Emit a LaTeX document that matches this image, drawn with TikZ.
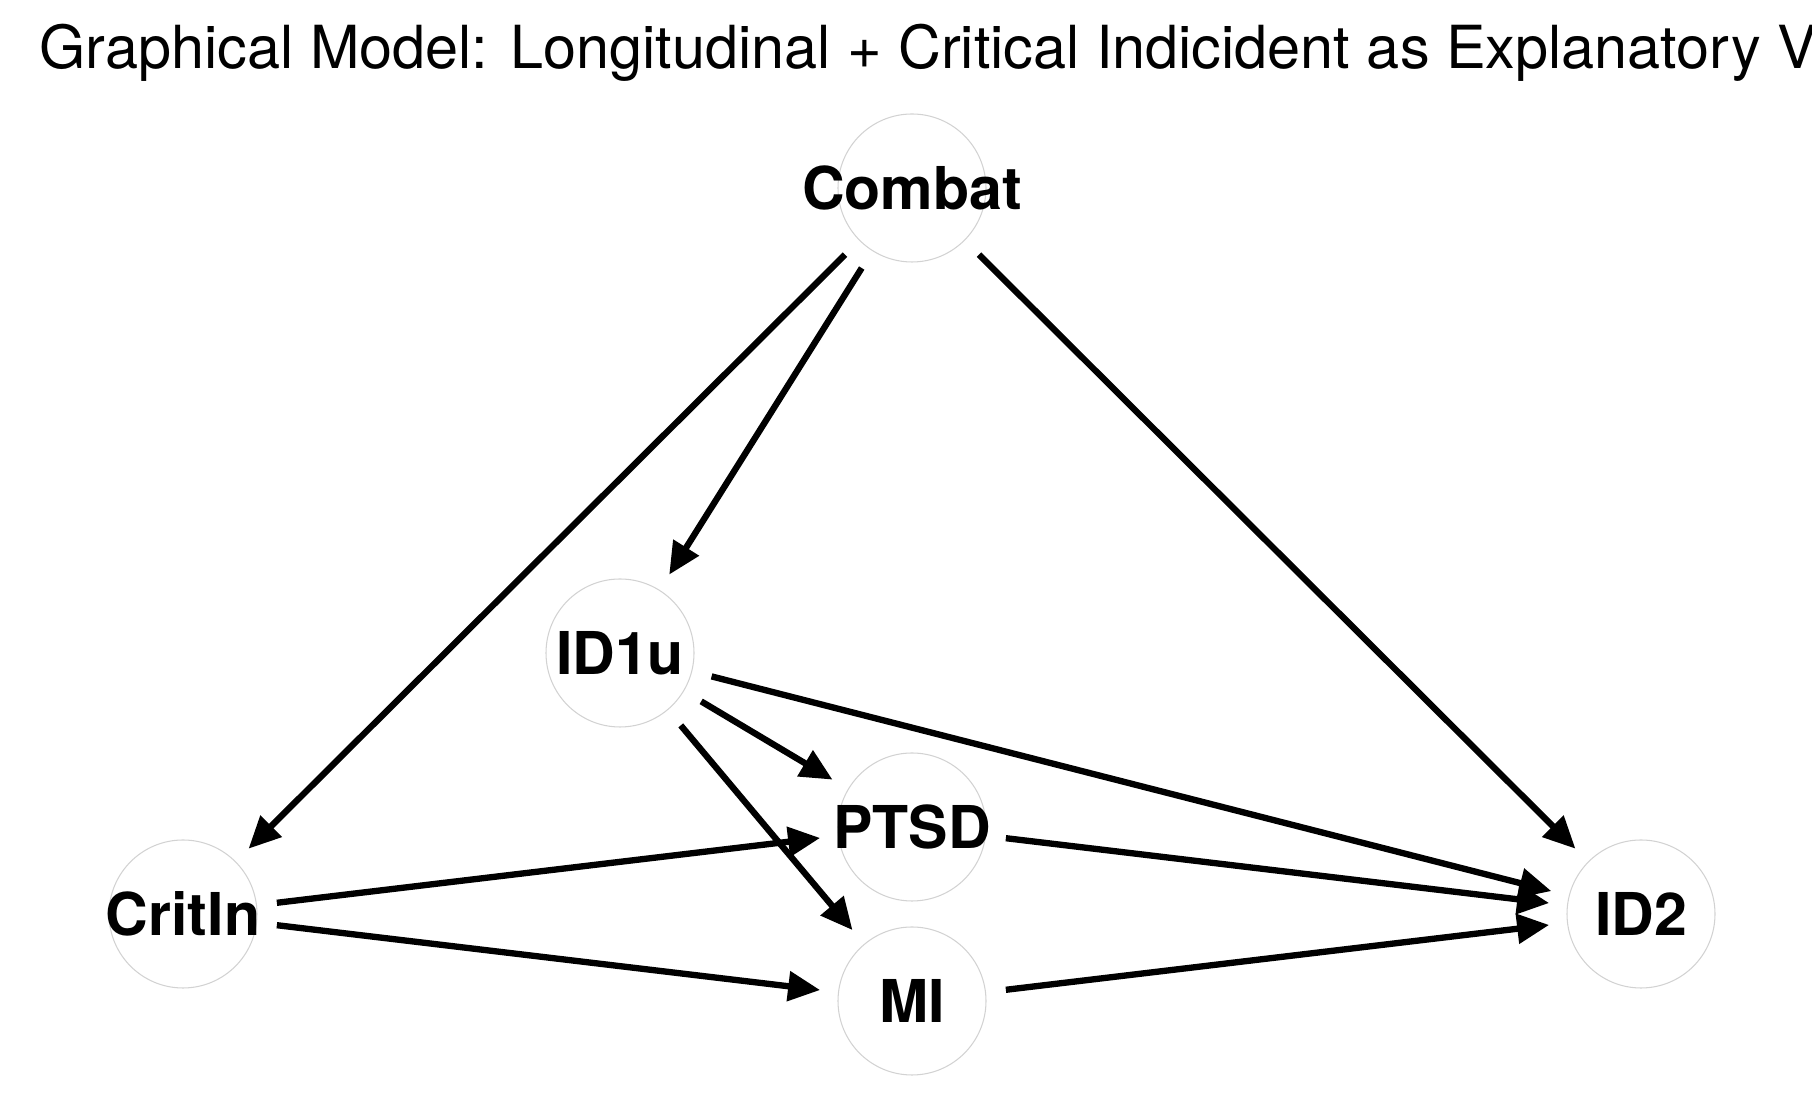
\documentclass[tikz,border=0pt]{standalone}
\usepackage{fontspec}
\setmainfont{TeX Gyre Heros}
\usetikzlibrary{arrows.meta}

\newcommand{\vname}[1]{\makebox[0pt]{#1}}

\tikzset{
  var/.style={circle, draw=gray!35, line width=0.3pt, minimum size=1.48cm, inner sep=0pt,
    font=\fontsize{16.8}{18}\selectfont\bfseries},
  edge/.style={line width=1.8pt, -{Triangle[length=3.2mm,width=2.9mm]},
    shorten <=2mm, shorten >=1.8mm}
}

\begin{document}
\begin{tikzpicture}
	\useasboundingbox (0,0) rectangle (18.12,11.20);
	\node[anchor=base west, inner sep=0pt, font=\fontsize{16.9}{20}\selectfont] (title) at (0.39,10.51)
		{Graphical Model: Longitudinal + Critical Indicident as Explanatory V};
	% variables
	\node[var] (combat) at (9.12,9.32) {\vname{Combat}};
	\node[var] (id1u) at (6.20,4.67) {\vname{ID1u}};
	\node[var] (ptsd) at (9.12,2.93) {\vname{PTSD}};
	\node[var] (mi) at (9.12,1.19) {\vname{MI}};
	\node[var] (critin) at (1.83,2.06) {\vname{CritIn}};
	\node[var] (id2) at (16.41,2.06) {\vname{ID2}};
	% edges
	\draw[edge] (combat) -- (critin);
	\draw[edge] (combat) -- (id1u);
	\draw[edge] (combat) -- (id2);
	\draw[edge] (id1u) -- (ptsd);
	\draw[edge] (id1u) -- (mi);
	\draw[edge] (id1u) -- (id2);
	\draw[edge] (critin) -- (ptsd);
	\draw[edge] (critin) -- (mi);
	\draw[edge] (ptsd) -- (id2);
	\draw[edge] (mi) -- (id2);
\end{tikzpicture}
\end{document}
